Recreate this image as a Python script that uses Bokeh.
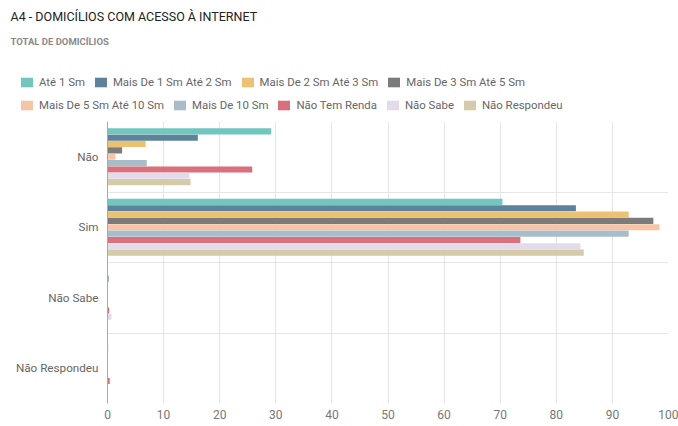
from bokeh.plotting import figure
from bokeh.layouts import column
from bokeh.models import (FactorRange, Range1d, ColumnDataSource, Legend, LegendItem,
                          FixedTicker)
from bokeh.core.properties import value
from bokeh.transform import dodge
from bokeh.embed import file_html
from bokeh.resources import INLINE

title_text = "A4 - DOMICÍLIOS COM ACESSO À INTERNET"
subtitle_text = "TOTAL DE DOMICÍLIOS"
categories = ["Não", "Sim", "Não Sabe", "Não Respondeu"]
series = ["Até 1 Sm", "Mais De 1 Sm Até 2 Sm", "Mais De 2 Sm Até 3 Sm", "Mais De 3 Sm Até 5 Sm",
          "Mais De 5 Sm Até 10 Sm", "Mais De 10 Sm", "Não Tem Renda", "Não Sabe", "Não Respondeu"]
ate_1 = [29.2, 70.4, 0.1, 0.1]
de_1_a_2 = [16.1, 83.5, 0.2, 0.1]
de_2_a_3 = [6.8, 92.9, 0.0, 0.0]
de_3_a_5 = [2.6, 97.3, 0.0, 0.0]
de_5_a_10 = [1.4, 98.4, 0.0, 0.0]
mais_10 = [7.0, 92.9, 0.05, 0.0]
sem_renda = [25.8, 73.6, 0.3, 0.4]
nao_sabe = [14.6, 84.3, 0.7, 0.0]
nao_respondeu = [14.8, 84.9, 0.0, 0.0]
values = [ate_1, de_1_a_2, de_2_a_3, de_3_a_5, de_5_a_10, mais_10, sem_renda, nao_sabe, nao_respondeu]
colors = ["#71C6BE", "#5E8299", "#EDC172", "#7B7B7B", "#F7C4A5", "#A9BCC9", "#D9707B", "#E3DAEC", "#D5CBA9"]
x_ticks = [0, 10, 20, 30, 40, 50, 60, 70, 80, 90, 100]

HEAD_H = 120
W = 678

# ---------- header: title, subtitle and legend ----------
head = figure(width=W, height=HEAD_H, output_backend="svg", toolbar_location=None,
              x_range=Range1d(0, W), y_range=Range1d(HEAD_H, 0),
              x_axis_type=None, y_axis_type=None,
              min_border_left=0, min_border_right=0, min_border_top=0, min_border_bottom=0)
head.frame_align = False
head.outline_line_color = None
head.grid.visible = False

head.text(x=[10], y=[15.5], text=[title_text], text_baseline="middle", text_align="left",
          text_font=value("Roboto"), text_font_size="12.5px", text_color="#222222")
head.text(x=[10], y=[40.5], text=[subtitle_text], text_baseline="middle", text_align="left",
          text_font=value("Roboto"), text_font_size="9.5px", text_font_style="bold",
          text_color="#8A8A8A")

swatches = []
for col in colors:
    swatches.append(head.hbar(y=[-50], right=[0], left=[0], height=1,
                              fill_color=col, line_color=None))

def make_legend(idx, loc):
    lg = Legend(items=[LegendItem(label=series[i], renderers=[swatches[i]]) for i in idx],
                orientation="horizontal", location=loc, padding=0, margin=0, spacing=8,
                glyph_width=15, glyph_height=12, label_standoff=5, label_height=12,
                label_text_font="Roboto", label_text_font_size="11.4px", label_text_color="#666666",
                border_line_color=None, background_fill_alpha=0)
    head.add_layout(lg)

make_legend([0, 1, 2, 3], (19, 31))
make_legend([4, 5, 6, 7, 8], (19, 8))

# ---------- main chart ----------
p = figure(width=W, height=426 - HEAD_H, output_backend="svg", toolbar_location=None,
           y_range=FactorRange(factors=categories[::-1]), x_range=Range1d(0, 100),
           min_border_left=107, min_border_right=10, min_border_top=1, min_border_bottom=23)
p.frame_align = False
p.outline_line_color = None

step = 0.09
for i, (name, vals, col) in enumerate(zip(series, values, colors)):
    src = ColumnDataSource(dict(cat=categories, val=vals))
    p.hbar(y=dodge("cat", (4 - i) * step, range=p.y_range), right="val", left=0,
           height=0.086, source=src, fill_color=col, line_color=None)

p.xaxis.ticker = FixedTicker(ticks=x_ticks)
p.xaxis.axis_line_color = None
p.xaxis.major_tick_line_color = None
p.xaxis.major_tick_out = 0
p.xaxis.minor_tick_line_color = None
p.xaxis.major_label_standoff = 6
p.xaxis.major_label_text_font = "Roboto"
p.xaxis.major_label_text_font_size = "12px"
p.xaxis.major_label_text_color = "#777777"

p.yaxis.axis_line_color = "#AAAAAA"
p.yaxis.major_tick_line_color = None
p.yaxis.major_tick_out = 0
p.yaxis.major_label_standoff = 9
p.yaxis.major_label_text_font = "Roboto"
p.yaxis.major_label_text_font_size = "11.7px"
p.yaxis.major_label_text_color = "#666666"

p.xgrid.grid_line_color = "#E6E6E6"
p.ygrid.ticker = FixedTicker(ticks=[0, 1, 2, 3, 4])
p.ygrid.grid_line_color = "#E6E6E6"

layout = column(head, p, spacing=0)
open("out.html", "w").write(file_html(layout, INLINE))
